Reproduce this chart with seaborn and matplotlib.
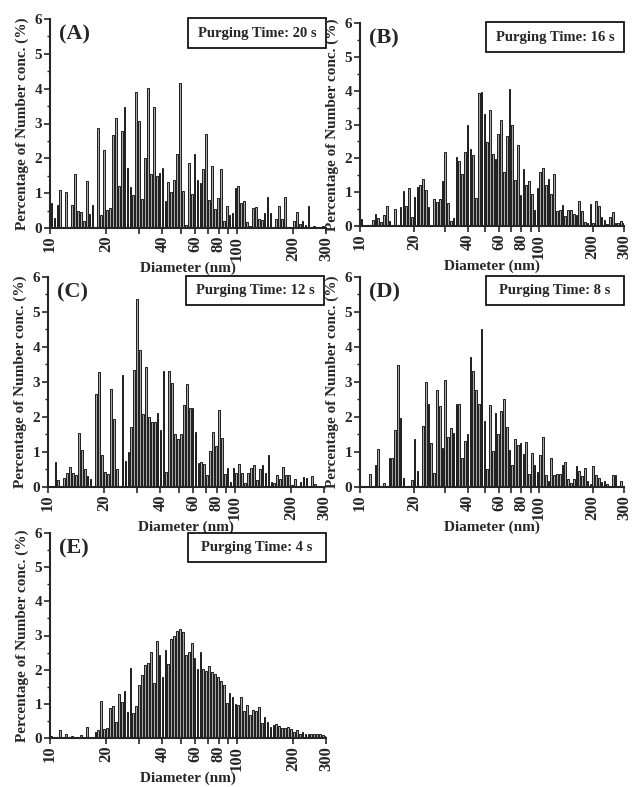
import numpy as np
import matplotlib
matplotlib.use("Agg")
import matplotlib.pyplot as plt
from matplotlib.patches import Rectangle
from matplotlib.ticker import NullLocator
import pandas as pd
import seaborn as sns

# SMPS channel midpoints (64 channels / decade), nm
diameter_nm = [
    10.2, 10.6, 10.9, 11.3, 11.8, 12.2, 12.6, 13.1, 13.6, 14.1,
    14.6, 15.1, 15.7, 16.3, 16.8, 17.5, 18.1, 18.8, 19.5, 20.2,
    20.9, 21.7, 22.5, 23.3, 24.1, 25.0, 25.9, 26.9, 27.9, 28.9,
    30.0, 31.1, 32.2, 33.4, 34.6, 35.9, 37.2, 38.5, 40.0, 41.4,
    42.9, 44.5, 46.1, 47.8, 49.6, 51.4, 53.3, 55.2, 57.3, 59.4,
    61.5, 63.8, 66.1, 68.5, 71.0, 73.7, 76.4, 79.1, 82.0, 85.1,
    88.2, 91.4, 94.7, 98.2, 101.8, 105.5, 109.4, 113.4, 117.6, 121.9,
    126.3, 131.0, 135.8, 140.7, 145.9, 151.2, 156.8, 162.5, 168.5, 174.7,
    181.1, 187.7, 194.6, 201.7, 209.1, 216.7, 224.7, 232.9, 241.4, 250.3,
    259.5, 269.0, 278.8, 289.0, 299.6,
]

# percentage of number concentration per channel
conc_20s = [
    0.72, 0.30, 0.67, 1.10, 0, 1.03, 0, 0.67, 1.55, 0.50, 0.46, 0.20, 1.35, 0.40, 0.67, 0,
    2.87, 0.38, 2.23, 0.52, 0.57, 2.67, 3.17, 1.20, 2.78, 3.47, 1.73, 1.19, 0.94, 3.90, 3.08, 0.84,
    2.00, 4.02, 1.55, 3.47, 1.49, 1.59, 1.72, 0.77, 1.32, 1.02, 1.39, 2.12, 4.17, 1.05, 0.10, 1.87,
    0.97, 2.12, 1.38, 1.28, 1.70, 2.70, 0.80, 1.77, 0.55, 0.87, 1.70, 0.20, 0.63, 0.36, 0.44, 1.15,
    1.20, 0.72, 0.78, 0.17, 0.07, 0.56, 0.60, 0.27, 0.23, 0.44, 0.88, 0.44, 0, 0.27, 0.63, 0.25,
    0.88, 0, 0, 0.20, 0.45, 0.12, 0.20, 0.10, 0.63, 0, 0.05, 0, 0, 0.05, 0,
]
conc_16s = [
    0.20, 0, 0, 0, 0.18, 0.35, 0.23, 0.11, 0.32, 0.60, 0.14, 0, 0.50, 0, 0.55, 1.02,
    0.59, 1.12, 0.26, 0.86, 1.14, 1.22, 1.39, 1.06, 0.55, 0, 0.80, 0.70, 0.79, 1.32, 2.19, 0.68,
    0.14, 0.25, 2.05, 1.91, 1.54, 2.20, 3.00, 2.27, 2.09, 0.84, 3.93, 3.97, 3.32, 2.49, 3.43, 2.13,
    1.97, 2.73, 3.13, 1.61, 2.67, 4.06, 2.98, 1.35, 2.39, 0.92, 1.68, 1.22, 1.33, 0.95, 0.48, 1.13,
    1.59, 1.71, 1.20, 1.39, 0.95, 1.53, 0.45, 0.48, 0.61, 0.31, 0.47, 0.48, 0.34, 0.33, 0.73, 0.43,
    0.13, 0.08, 0.64, 0.09, 0.73, 0.58, 0.26, 0.19, 0.05, 0.28, 0.42, 0.09, 0.08, 0.14, 0.10,
]
conc_12s = [
    0, 0, 0.70, 0.21, 0, 0.26, 0.40, 0.57, 0.40, 0.35, 1.55, 1.07, 0.52, 0.32, 0.22, 0,
    2.65, 3.28, 0.92, 0.43, 0.38, 2.81, 1.95, 0.50, 0, 3.20, 0.73, 1.01, 1.71, 3.33, 5.38, 3.92,
    2.08, 3.43, 2.01, 1.86, 1.86, 2.10, 1.64, 3.30, 0.42, 3.30, 2.98, 1.52, 1.38, 1.50, 2.34, 2.94,
    2.27, 2.27, 1.56, 0.69, 0.71, 0.65, 0.33, 1.03, 1.56, 1.16, 2.19, 1.41, 0.36, 0.53, 0.14, 0.55,
    0.40, 0.65, 0.40, 0.11, 0.39, 0.55, 0.62, 0.19, 0.50, 0.64, 0.40, 0.92, 0.13, 0.12, 0.34, 0.24,
    0.58, 0.35, 0.35, 0.07, 0.22, 0, 0.13, 0.28, 0.25, 0, 0.31, 0.08, 0, 0, 0,
]
conc_8s = [
    0, 0, 0, 0.36, 0, 0.62, 1.08, 0, 0.12, 0, 0.82, 0.82, 1.64, 3.48, 1.97, 0.27,
    0, 0, 0.19, 1.36, 0.45, 0, 1.74, 2.99, 2.37, 1.27, 0.41, 2.76, 2.31, 1.11, 3.05, 1.43,
    1.68, 1.53, 2.38, 2.36, 0.82, 1.32, 1.52, 3.72, 3.32, 2.77, 2.38, 4.52, 1.89, 0.52, 2.35, 1.04,
    2.12, 1.50, 2.16, 2.51, 1.71, 1.06, 0.63, 1.37, 1.21, 1.25, 0.93, 1.29, 0.38, 0.97, 0.64, 0.43,
    0.92, 1.44, 0.35, 0.18, 0.84, 0.34, 0.38, 0.36, 0.64, 0.71, 0.24, 0.11, 0.24, 0.59, 0.46, 0.30,
    0.54, 0.17, 0.08, 0.60, 0.33, 0.27, 0.14, 0.16, 0.09, 0.04, 0.33, 0.33, 0, 0.17, 0.04,
]
conc_4s = [
    0.06, 0, 0, 0.23, 0, 0.13, 0, 0.07, 0, 0, 0.10, 0, 0.33, 0.02, 0, 0.18,
    0.23, 1.07, 0.27, 0.29, 0.88, 0.95, 0.47, 1.30, 1.04, 1.38, 0.76, 2.04, 0.74, 0.93, 1.56, 1.85,
    2.13, 2.19, 2.51, 1.62, 2.83, 2.44, 1.78, 2.58, 2.17, 2.89, 2.98, 3.14, 3.18, 3.10, 2.43, 2.51,
    2.78, 2.34, 2.03, 2.53, 2.01, 1.95, 2.10, 1.93, 1.86, 1.78, 1.66, 1.56, 1.03, 1.33, 1.19, 0.99,
    0.97, 1.20, 0.78, 0.96, 0.66, 0.81, 0.80, 0.91, 0.45, 0.62, 0.47, 0.33, 0.37, 0.40, 0.35, 0.28,
    0.28, 0.31, 0.26, 0.18, 0.23, 0.12, 0.19, 0.11, 0.11, 0.11, 0.13, 0.11, 0.13, 0.08, 0.05,
]

panel_letters = ["(A)", "(B)", "(C)", "(D)", "(E)"]
purge_labels = ["Purging Time: 20 s", "Purging Time: 16 s", "Purging Time: 12 s",
                "Purging Time: 8 s", "Purging Time: 4 s"]
series = [conc_20s, conc_16s, conc_12s, conc_8s, conc_4s]

xtick_vals = [10, 20, 30, 40, 50, 60, 70, 80, 90, 100, 200, 300]
xtick_text = ["10", "20", "", "40", "", "60", "", "80", "", "100", "200", "300"]

sns.set_style("ticks")
plt.rcParams["font.family"] = ["Liberation Serif", "DejaVu Serif"]
plt.rcParams["font.weight"] = "bold"
plt.rcParams["axes.labelweight"] = "bold"

W, H = 636, 787
fig = plt.figure(figsize=(W / 100, H / 100), dpi=100)

# pixel layout: left edge, y of zero line, y of top (6 %), width
boxes = [(50, 228, 19, 276), (360, 226, 23, 264), (48, 487, 277, 276),
         (360, 487, 277, 264), (50, 738, 533, 276)]

# one bin per channel, range given in log10 units (log_scale histogram)
n_ch = len(diameter_nm)
lo, hi = np.log10(diameter_nm[0]), np.log10(diameter_nm[-1])
step = (hi - lo) / (n_ch - 1)
bin_range = (lo - step / 2, hi + step / 2)

for (left, y0, y6, ax_w), letter, purge, vals in zip(boxes, panel_letters, purge_labels, series):
    df = pd.DataFrame({"diameter": diameter_nm, "conc": vals})
    ax_h = y0 - y6
    ax = fig.add_axes([left / W, 1 - y0 / H, ax_w / W, ax_h / H])
    sns.histplot(data=df, x="diameter", weights="conc", bins=n_ch, binrange=bin_range,
                 log_scale=True, shrink=0.6, color="#a9a9a9", edgecolor="black",
                 linewidth=0.6, alpha=1, ax=ax)
    ax.set_xlim(10, 300)
    ax.set_ylim(0, 6)
    ax.set_xticks(xtick_vals)
    ax.set_xticklabels(xtick_text, rotation=90, fontsize=12, fontweight="bold")
    ax.xaxis.set_minor_locator(NullLocator())
    ax.set_yticks(range(7))
    ax.set_yticklabels([str(v) for v in range(7)], fontsize=11, fontweight="bold")
    ax.set_yticks(np.arange(0.5, 6, 1), minor=True)
    ax.tick_params(axis="both", which="major", direction="out", length=4, width=1.2, pad=1.5)
    ax.tick_params(axis="y", which="minor", direction="out", length=2.5, width=1)
    sns.despine(ax=ax)
    for s in ("left", "bottom"):
        ax.spines[s].set_linewidth(1.5)
    ax.set_xlabel("Diameter (nm)", fontsize=11, fontweight="bold", labelpad=1)
    ax.set_ylabel("Percentage of Number conc. (%)", fontsize=11, fontweight="bold", labelpad=4)

    ax.text(9 / ax_w, 1 - 15 / ax_h, letter, transform=ax.transAxes, fontsize=16,
            fontweight="bold", ha="left", va="center")
    bw, bh = 138 / ax_w, 29 / ax_h
    cx, cy = 1 - 69 / ax_w, 1 - 14 / ax_h
    ax.add_patch(Rectangle((cx - bw / 2, cy - bh / 2), bw, bh, transform=ax.transAxes,
                           facecolor="white", edgecolor="black", linewidth=1.2,
                           clip_on=False, zorder=5))
    ax.text(cx, cy, purge, transform=ax.transAxes, fontsize=10.5, fontweight="bold",
            ha="center", va="center", zorder=6)

fig.savefig("out.png", dpi=100)
